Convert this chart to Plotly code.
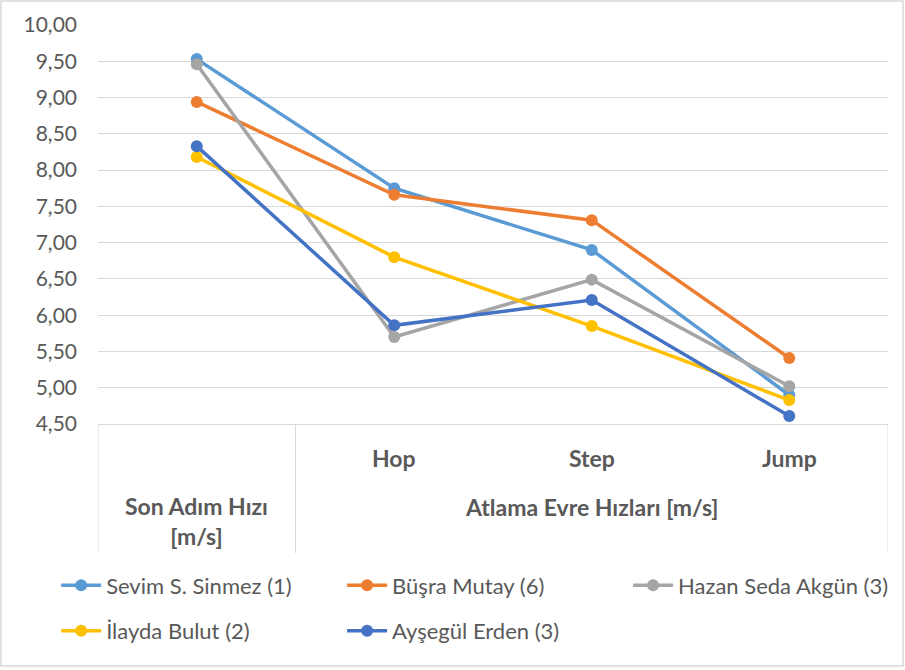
import plotly.graph_objects as go

categories = ["Son Adım Hızı", "Hop", "Step", "Jump"]
sub_labels = ["Hop", "Step", "Jump"]
group_labels = ["Son Adım Hızı<br>[m/s]", "Atlama Evre Hızları [m/s]"]

series_names = ["Sevim S. Sinmez (1)", "Büşra Mutay (6)", "Hazan Seda Akgün (3)",
                "İlayda Bulut (2)", "Ayşegül Erden (3)"]
sevim = [9.53, 7.75, 6.90, 4.90]
busra = [8.94, 7.66, 7.31, 5.41]
hazan = [9.46, 5.70, 6.49, 5.02]
ilayda = [8.18, 6.80, 5.85, 4.83]
aysegul = [8.33, 5.86, 6.21, 4.61]
colors = ["#5B9BD5", "#ED7D31", "#A5A5A5", "#FFC000", "#4472C4"]
legend_cols = ["legend", "legend2", "legend3", "legend", "legend2"]

FONT = "Lato, Roboto, sans-serif"
TXT = "#595959"
GRID = "#D9D9D9"

x_idx = list(range(len(categories)))
fig = go.Figure()
for i, (name, vals, col) in enumerate(zip(series_names, [sevim, busra, hazan, ilayda, aysegul], colors)):
    fig.add_trace(go.Scatter(
        x=x_idx, y=vals, name=name, mode="lines+markers",
        line=dict(color=col, width=3.5),
        marker=dict(color=col, size=12, symbol="circle"),
        legend=legend_cols[i], legendgroup="g%d" % i,
    ))

# category labels
for i, lab in enumerate(sub_labels, start=1):
    fig.add_annotation(x=i, y=-0.085, xref="x", yref="paper", text="<b>%s</b>" % lab,
                       showarrow=False, font=dict(family=FONT, size=23, color=TXT),
                       yanchor="middle")
fig.add_annotation(x=0, y=-0.244, xref="x", yref="paper", text="<b>%s</b>" % group_labels[0],
                   showarrow=False, font=dict(family=FONT, size=23, color=TXT),
                   yanchor="middle")
fig.add_annotation(x=2, y=-0.208, xref="x", yref="paper", text="<b>%s</b>" % group_labels[1],
                   showarrow=False, font=dict(family=FONT, size=23, color=TXT),
                   yanchor="middle")

# category dividers
for xb in [-0.5, 0.5, len(categories) - 0.5]:
    fig.add_shape(type="line", xref="x", yref="paper", x0=xb, x1=xb, y0=0, y1=-0.323,
                  line=dict(color=GRID, width=1))

# outer border
fig.add_shape(type="rect", xref="paper", yref="paper", x0=-0.1228, x1=1.019,
              y0=-0.6065, y1=1.060, line=dict(color=GRID, width=1.5))

leg_common = dict(orientation="v", yanchor="top", xanchor="left", tracegroupgap=14,
                  font=dict(family=FONT, size=22, color=TXT), bgcolor="rgba(0,0,0,0)",
                  itemwidth=40)
fig.update_layout(
    width=905, height=670,
    margin=dict(l=98, r=17, t=25, b=246, autoexpand=False),
    paper_bgcolor="white", plot_bgcolor="white",
    separators=",.",
    showlegend=True,
    legend=dict(x=-0.053, y=-0.352, **leg_common),
    legend2=dict(x=0.309, y=-0.352, **leg_common),
    legend3=dict(x=0.671, y=-0.352, **leg_common),
    xaxis=dict(range=[-0.5, len(categories) - 0.5], showticklabels=False, showgrid=False,
               zeroline=False, showline=True, linecolor=GRID, linewidth=1, fixedrange=True),
    yaxis=dict(range=[4.5, 10], dtick=0.5, tickformat=".2f", showgrid=True, gridcolor=GRID,
               gridwidth=1, zeroline=False, showline=False,
               tickfont=dict(family=FONT, size=21, color=TXT), ticklabelstandoff=20),
    font=dict(family=FONT, color=TXT),
)

fig.write_html("out.html", config={"displayModeBar": False},
               post_script="document.body.style.margin='0';document.body.style.overflow='hidden';")
